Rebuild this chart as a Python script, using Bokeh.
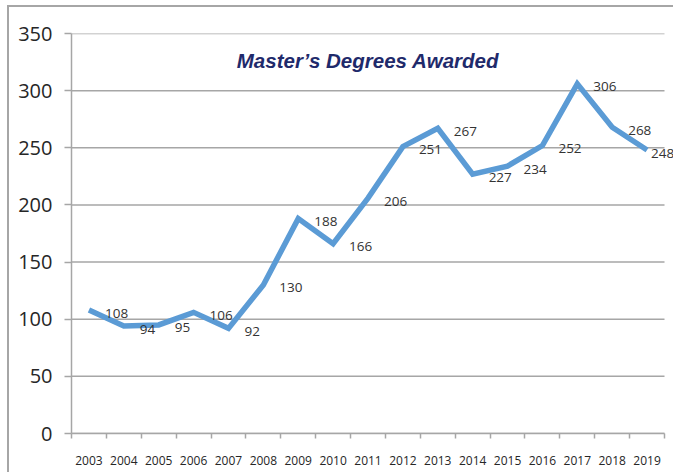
from bokeh.plotting import figure
from bokeh.models import Range1d, FixedTicker, ColumnDataSource, LabelSet, Label
from bokeh.core.properties import value
from bokeh.embed import file_html
from bokeh.resources import INLINE

years = ["2003", "2004", "2005", "2006", "2007", "2008", "2009", "2010", "2011",
         "2012", "2013", "2014", "2015", "2016", "2017", "2018", "2019"]
degrees = [108, 94, 95, 106, 92, 130, 188, 166, 206, 251, 267, 227, 234, 252, 306, 268, 248]
y_ticks = [0, 50, 100, 150, 200, 250, 300, 350]
title_text = "Master\u2019s Degrees Awarded"

NUM_FONT = "Open Sans"
GRID = "#a6a6a6"

n = len(years)
idx = list(range(n))
# label offsets: the last label is pulled in so it stays inside the picture
offs = [16] * (n - 1) + [4]
src = ColumnDataSource(dict(x=idx, y=degrees, t=[str(v) for v in degrees], xo=offs))

# plot area runs from x=71 to 673; the category band ends at 664
CAT_W = 593 / n
x_end = -0.5 + 602 / CAT_W

p = figure(width=673, height=472, output_backend="svg", toolbar_location=None,
           x_range=Range1d(-0.5, x_end), y_range=Range1d(0, 350),
           min_border_left=71, min_border_right=0, min_border_top=33, min_border_bottom=39,
           background_fill_color="white", border_fill_alpha=0,
           styles={"box-shadow": "inset 7px 5px 0 0 white, inset 9px 7px 0 0 #a6a6a6",
                   "background-color": "white"})
p.outline_line_color = None

# gridlines, ending at the last category boundary
p.segment(x0=[-0.5] * len(y_ticks), x1=[n - 0.5] * len(y_ticks), y0=y_ticks, y1=y_ticks,
          line_color=GRID, line_width=1.5)

# y axis
p.yaxis.ticker = FixedTicker(ticks=y_ticks)
p.yaxis.axis_line_color = GRID
p.yaxis.axis_line_width = 1.5
p.yaxis.major_tick_line_color = GRID
p.yaxis.major_tick_line_width = 1.5
p.yaxis.major_tick_out = 7
p.yaxis.major_tick_in = 0
p.yaxis.minor_tick_line_color = None
p.yaxis.major_label_text_font = NUM_FONT
p.yaxis.major_label_text_font_size = "20px"
p.yaxis.major_label_text_color = "#262626"
p.yaxis.major_label_standoff = 12

# x axis
p.xaxis.ticker = FixedTicker(ticks=idx, minor_ticks=[i - 0.5 for i in range(n + 1)])
p.xaxis.bounds = (-0.5, n - 0.5)
p.xaxis.major_label_overrides = {i: y for i, y in enumerate(years)}
p.xaxis.axis_line_color = GRID
p.xaxis.axis_line_width = 1.5
p.xaxis.major_tick_line_color = None
p.xaxis.major_tick_out = 0
p.xaxis.major_tick_in = 0
p.xaxis.minor_tick_line_color = GRID
p.xaxis.minor_tick_line_width = 1.5
p.xaxis.minor_tick_out = 5
p.xaxis.minor_tick_in = 0
p.xaxis.major_label_text_font = NUM_FONT
p.xaxis.major_label_text_font_size = "12px"
p.xaxis.major_label_text_color = "#262626"
p.xaxis.major_label_standoff = 17

p.xgrid.grid_line_color = None
p.ygrid.grid_line_color = None

p.line("x", "y", source=src, line_color="#5b9bd5", line_width=5.5, line_join="miter")

labels = LabelSet(x="x", y="y", text="t", source=src, x_offset="xo", y_offset=-3,
                  text_align="left", text_baseline="middle",
                  text_font=value(NUM_FONT), text_font_size=value("13.5px"),
                  text_color="#333333")
p.add_layout(labels)

title = Label(x=(n - 1) / 2, y=326, text=title_text, text_align="center",
              text_baseline="middle", text_font="Liberation Sans", text_font_style="bold italic",
              text_font_size="20.5px", text_color="#1f2a6b")
p.add_layout(title)

open("out.html", "w").write(file_html(p, INLINE))
